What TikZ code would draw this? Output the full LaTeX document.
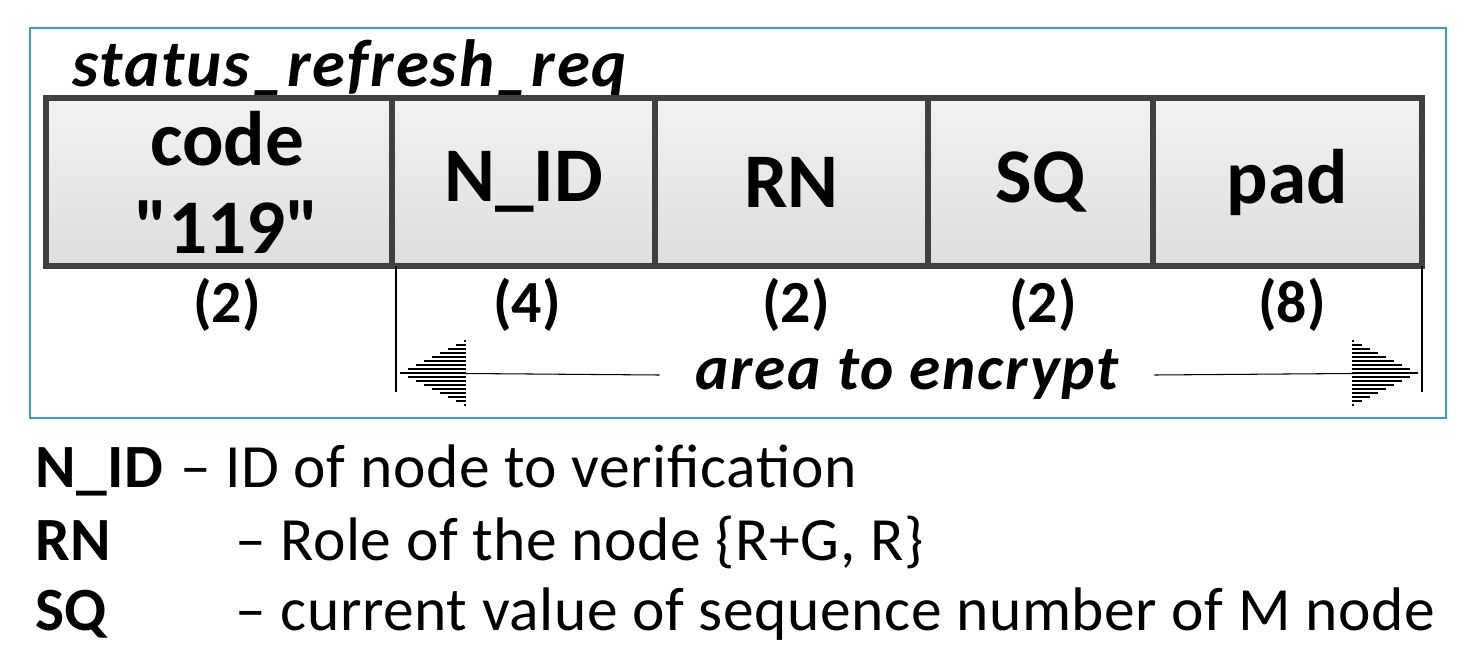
\documentclass[tikz,border=0pt]{standalone}
\usepackage{fontspec}
\setmainfont{Carlito}[Ligatures=TeXOff]
\begin{document}
\begin{tikzpicture}[x={(0.02cm,0)},y={(0,-0.02cm)},
  field/.style={draw=black!75,line width=3.4pt,top color=black!5,bottom color=black!13,inner sep=0pt},
  ftext/.style={font=\fontsize{44}{50}\selectfont\bfseries},
  sz/.style={font=\fontsize{34}{40}\selectfont\bfseries},
  leg/.style={font=\fontsize{35}{40}\selectfont\addfontfeatures{LetterSpace=1}},
  hatch/.style={line width=1.1pt}]
\useasboundingbox (0,0) rectangle (1472,659);
\draw[draw=cyan!70!blue!80,line width=1.2pt] (30,28) rectangle (1446,418);
\node[anchor=base west,inner sep=0pt,font=\fontsize{38}{40}\selectfont\bfseries\itshape\addfontfeatures{LetterSpace=3}] (title) at (72,86) {status\_refresh\_req};
\foreach \a/\b/\n in {46/392/f1,392/655/f2,655/928/f3,928/1153/f4,1153/1422/f5}{
  \path[field] (\a,98) rectangle (\b,266);
  \coordinate (\n) at ({(\a+\b)/2},182);
}
\node[ftext,align=center] (t1) at (227,182) {code\\"119"};
\node[ftext] (t2) at (f2) {N\_ID};
\node[ftext] (t3) at (f3) {RN};
\node[ftext] (t4) at (f4) {SQ};
\node[ftext] (t5) at (f5) {pad};
\node[sz] (s1) at (227,305) {(2)};
\node[sz] (s2) at (527,305) {(4)};
\node[sz] (s3) at (796,305) {(2)};
\node[sz] (s4) at (1043,305) {(2)};
\node[sz] (s5) at (1292,305) {(8)};
\coordinate (l0) at (396,266); \coordinate (l1) at (396,392);
\coordinate (r0) at (1422,266); \coordinate (r1) at (1422,392);
\draw[line width=1pt] (l0) -- (l1);
\draw[line width=1pt] (r0) -- (r1);
\node[font=\fontsize{36}{40}\selectfont\bfseries\itshape\addfontfeatures{LetterSpace=3},inner xsep=20pt] (enc) at (907,375) {area to encrypt};
\coordinate (al) at (400,373); \coordinate (ar) at (1418,373);
\draw[line width=0.6pt] (al) -- (enc.west);
\draw[line width=0.6pt] (enc.east) -- (ar);
\foreach \i in {-8,...,8}{
  \pgfmathsetmacro{\d}{abs(\i)*8}
  \draw[hatch] ({400+\d},{373+\i*4}) -- (466,{373+\i*4});
  \draw[hatch] ({1418-\d},{373+\i*4}) -- (1352,{373+\i*4});
}
\node[leg,anchor=base west,inner sep=0pt] (k1) at (35,487) {\textbf{N\_ID}};
\node[leg,anchor=base west,inner sep=0pt] (d1) at (180,487) {– ID of node to verification};
\node[leg,anchor=base west,inner sep=0pt] (k2) at (35,560) {\textbf{RN}};
\node[leg,anchor=base west,inner sep=0pt] (d2) at (235,560) {– Role of the node \{R+G, R\}};
\node[leg,anchor=base west,inner sep=0pt] (k3) at (35,630) {\textbf{SQ}};
\node[leg,anchor=base west,inner sep=0pt] (d3) at (235,630) {– current value of sequence number of M node};
\end{tikzpicture}
\end{document}
